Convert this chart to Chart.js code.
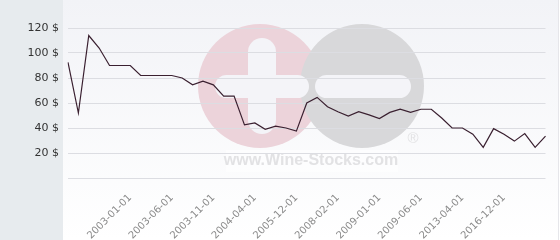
<!DOCTYPE html>
<html>
<head>
<meta charset="utf-8">
<script src="https://cdn.jsdelivr.net/npm/chart.js@4/dist/chart.umd.min.js"></script>
<style>
  html, body { margin: 0; padding: 0; background: #fff; }
  #wrap { width: 560px; height: 240px; position: relative; }
</style>
</head>
<body>
<div id="wrap"><canvas id="c" width="560" height="240"></canvas></div>
<script>
// price history, one entry per observation (only some dates are printed on the axis)
const dates = [
  '', '', '', '', '', '', '2003-01-01', '', '', '', '2003-06-01', '', '', '', '2003-11-01', '',
  '', '', '2004-04-01', '', '', '', '2005-12-01', '', '', '', '2008-02-01', '', '', '', '2009-01-01', '',
  '', '', '2009-06-01', '', '', '', '2013-04-01', '', '', '', '2016-12-01', '', '', '', '',
];
const prices = [
  92.5, 52, 114, 104, 90, 90, 90, 82, 82, 82, 82, 80, 74.5, 77.5, 74.5, 65.5,
  65.5, 42.5, 44, 39, 41.5, 40, 37.5, 60, 64.5, 57, 53, 49.5, 53, 50.5, 47.5, 52.5,
  55, 52.5, 55, 55, 48, 40, 40, 35, 24.5, 39.5, 35, 29.5, 35.5, 24.5, 33.5,
];
const yMin = 0, yMax = 120, yStep = 20;
const currency = '$';

// backdrop: grey side panel, light gradient plot area, faded logo watermark
const backdrop = {
  id: 'backdrop',
  beforeDraw(chart) {
    const { ctx, width, height } = chart;
    ctx.save();
    ctx.fillStyle = '#e7ebee';
    ctx.fillRect(0, 0, 63, height);
    const g = ctx.createLinearGradient(0, 0, 0, height);
    g.addColorStop(0, '#f2f3f7');
    g.addColorStop(1, '#ffffff');
    ctx.fillStyle = g;
    ctx.fillRect(63, 0, width - 65, height);
    ctx.fillStyle = '#e6e6ea';
    ctx.fillRect(width - 2, 0, 1, height);

    // watermark
    const cy = 86, r = 62;
    ctx.fillStyle = '#ecd3da';
    ctx.beginPath(); ctx.arc(260, cy, r, 0, Math.PI * 2); ctx.fill();
    ctx.fillStyle = '#d8d8da';
    ctx.beginPath(); ctx.arc(362, cy, r, 0, Math.PI * 2); ctx.fill();
    const bar = (x, y, w, h) => {
      const rr = Math.min(w, h) / 2;
      ctx.beginPath();
      ctx.roundRect(x, y, w, h, rr);
      ctx.fill();
    };
    ctx.fillStyle = '#f4f4f8';
    bar(248, 38, 28, 96);   // plus, vertical
    bar(215, 75, 94, 23);   // plus, horizontal
    bar(315, 75, 96, 23);   // minus
    ctx.fillStyle = 'rgba(255,255,255,0.5)';
    ctx.fillRect(226, 150, 172, 22);
    ctx.fillStyle = '#e2e2e4';
    ctx.font = 'bold 16px "Liberation Sans", Arial, sans-serif';
    ctx.textAlign = 'center';
    ctx.textBaseline = 'middle';
    ctx.fillText('www.Wine-Stocks.com', 311, 161);
    ctx.font = '15px "Liberation Sans", Arial, sans-serif';
    ctx.fillText('\u00AE', 413, 139);
    ctx.restore();
  },
};

new Chart(document.getElementById('c'), {
  type: 'line',
  data: {
    labels: dates,
    datasets: [{
      data: prices,
      borderColor: '#3a2030',
      borderWidth: 1.2,
      pointRadius: 0,
      tension: 0,
      fill: false,
    }],
  },
  options: {
    responsive: false,
    animation: false,
    layout: { padding: { left: 0, top: 28, right: 5, bottom: 0 } },
    plugins: { legend: { display: false }, tooltip: { enabled: false } },
    scales: {
      x: {
        offset: false,
        grid: { display: false },
        border: { display: false },
        ticks: {
          autoSkip: false,
          maxRotation: 45,
          minRotation: 45,
          padding: 6,
          color: '#8a8a8a',
          font: { family: 'DejaVu Sans', size: 10 },
          callback: (v, i) => dates[i],
        },
        afterFit: s => { s.height = 62; },
      },
      y: {
        min: yMin, max: yMax,
        grid: { color: '#dcdde2', drawTicks: false },
        border: { display: false },
        ticks: {
          stepSize: yStep,
          padding: 9,
          color: '#333333',
          font: { family: 'DejaVu Sans', size: 11 },
          callback: v => (v === 0 ? '' : v + ' ' + currency),
        },
        afterFit: s => { s.width = 68; },
      },
    },
  },
  plugins: [backdrop],
});
</script>
</body>
</html>
